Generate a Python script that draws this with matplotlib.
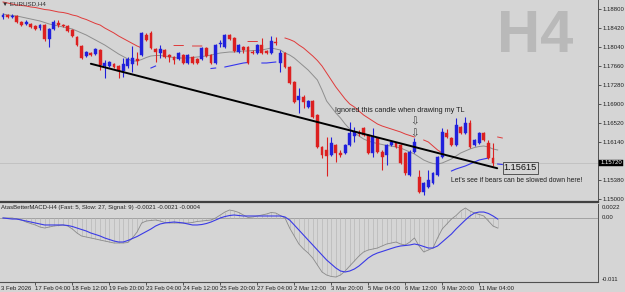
import matplotlib
matplotlib.use("Agg")
import matplotlib.pyplot as plt
import matplotlib.transforms as mtransforms
import numpy as np

# ---------------- data ----------------
opens = [1.1864, 1.1868, 1.1864, 1.1866, 1.1854, 1.1850, 1.1850, 1.1846, 1.1842, 1.1848,
         1.1820, 1.1840, 1.1852, 1.1848, 1.1846, 1.1838, 1.1824, 1.1806, 1.1786, 1.1792,
         1.1790, 1.1798, 1.1766, 1.1766, 1.1770, 1.1766, 1.1756, 1.1766, 1.1770, 1.1780,
         1.1788, 1.1828, 1.1832, 1.1800, 1.1792, 1.1798, 1.1788, 1.1784, 1.1780, 1.1788,
         1.1772, 1.1784, 1.1780, 1.1780, 1.1802, 1.1788, 1.1772, 1.1809, 1.1804, 1.1828,
         1.1822, 1.1794, 1.1804, 1.1804, 1.1794, 1.1792, 1.1808, 1.1796, 1.1792, 1.1815,
         1.1772, 1.1792, 1.1764, 1.1734, 1.1698, 1.1704, 1.1684, 1.1696, 1.1668, 1.1604,
         1.1598, 1.1588, 1.1608, 1.1592, 1.1592, 1.1608, 1.1626, 1.1633, 1.1642, 1.1628,
         1.1592, 1.1622, 1.1594, 1.1588, 1.1608, 1.1612, 1.1608, 1.1592, 1.1548, 1.1594,
         1.1544, 1.1514, 1.1524, 1.1532, 1.1548, 1.1584, 1.1632, 1.1622, 1.1608, 1.1644,
         1.1632, 1.1652, 1.1608, 1.1612, 1.1632, 1.1612, 1.1582]
highs = [1.1872, 1.1870, 1.1870, 1.1868, 1.1856, 1.1858, 1.1852, 1.1848, 1.1850, 1.1850,
         1.1842, 1.1858, 1.1858, 1.1850, 1.1848, 1.1840, 1.1826, 1.1808, 1.1796, 1.1794,
         1.1802, 1.1800, 1.1778, 1.1776, 1.1772, 1.1768, 1.1782, 1.1784, 1.1806, 1.1794,
         1.1834, 1.1832, 1.1836, 1.1802, 1.1808, 1.1800, 1.1790, 1.1786, 1.1794, 1.1790,
         1.1790, 1.1786, 1.1782, 1.1804, 1.1804, 1.1790, 1.1810, 1.1818, 1.1830, 1.1830,
         1.1824, 1.1810, 1.1806, 1.1806, 1.1798, 1.1810, 1.1822, 1.1798, 1.1826, 1.1824,
         1.1798, 1.1794, 1.1766, 1.1736, 1.1722, 1.1708, 1.1698, 1.1698, 1.1670, 1.1606,
         1.1624, 1.1624, 1.1610, 1.1598, 1.1610, 1.1654, 1.1644, 1.1638, 1.1644, 1.1630,
         1.1642, 1.1624, 1.1598, 1.1610, 1.1616, 1.1614, 1.1610, 1.1594, 1.1598, 1.1622,
         1.1558, 1.1534, 1.1558, 1.1554, 1.1586, 1.1642, 1.1640, 1.1624, 1.1662, 1.1646,
         1.1664, 1.1658, 1.1620, 1.1634, 1.1634, 1.1618, 1.1612]
lows = [1.1860, 1.1862, 1.1862, 1.1852, 1.1846, 1.1848, 1.1842, 1.1838, 1.1838, 1.1816,
        1.1804, 1.1838, 1.1844, 1.1844, 1.1834, 1.1824, 1.1806, 1.1780, 1.1784, 1.1786,
        1.1788, 1.1758, 1.1742, 1.1764, 1.1762, 1.1742, 1.1744, 1.1762, 1.1754, 1.1768,
        1.1786, 1.1816, 1.1800, 1.1774, 1.1782, 1.1782, 1.1774, 1.1770, 1.1778, 1.1770,
        1.1770, 1.1770, 1.1770, 1.1778, 1.1784, 1.1770, 1.1770, 1.1804, 1.1802, 1.1818,
        1.1794, 1.1792, 1.1792, 1.1770, 1.1790, 1.1790, 1.1790, 1.1790, 1.1790, 1.1808,
        1.1754, 1.1762, 1.1730, 1.1692, 1.1672, 1.1682, 1.1682, 1.1662, 1.1602, 1.1582,
        1.1546, 1.1586, 1.1574, 1.1584, 1.1590, 1.1606, 1.1614, 1.1626, 1.1626, 1.1590,
        1.1584, 1.1592, 1.1558, 1.1568, 1.1606, 1.1602, 1.1570, 1.1548, 1.1546, 1.1592,
        1.1512, 1.1508, 1.1522, 1.1530, 1.1546, 1.1582, 1.1622, 1.1606, 1.1606, 1.1630,
        1.1630, 1.1602, 1.1606, 1.1610, 1.1616, 1.1580, 1.1566]
closes = [1.1868, 1.1864, 1.1866, 1.1854, 1.1848, 1.1854, 1.1844, 1.1840, 1.1848, 1.1820,
          1.1840, 1.1854, 1.1848, 1.1846, 1.1836, 1.1826, 1.1808, 1.1782, 1.1794, 1.1788,
          1.1800, 1.1768, 1.1772, 1.1774, 1.1764, 1.1756, 1.1770, 1.1780, 1.1782, 1.1776,
          1.1832, 1.1818, 1.1802, 1.1794, 1.1800, 1.1784, 1.1784, 1.1778, 1.1792, 1.1772,
          1.1788, 1.1772, 1.1772, 1.1802, 1.1786, 1.1772, 1.1808, 1.1811, 1.1828, 1.1820,
          1.1796, 1.1808, 1.1798, 1.1772, 1.1792, 1.1808, 1.1792, 1.1792, 1.1816, 1.1813,
          1.1792, 1.1764, 1.1732, 1.1694, 1.1706, 1.1694, 1.1696, 1.1664, 1.1604, 1.1588,
          1.1586, 1.1612, 1.1592, 1.1588, 1.1608, 1.1632, 1.1634, 1.1631, 1.1628, 1.1592,
          1.1624, 1.1594, 1.1584, 1.1608, 1.1614, 1.1604, 1.1572, 1.1552, 1.1594, 1.1614,
          1.1514, 1.1532, 1.1538, 1.1552, 1.1584, 1.1634, 1.1624, 1.1608, 1.1648, 1.1632,
          1.1652, 1.1604, 1.1618, 1.1632, 1.1618, 1.1582, 1.1572]

# grey moving average (shifted one bar forward)
ma_grey = [1.1870, 1.1868, 1.1867, 1.1866, 1.1864, 1.1862, 1.1860, 1.1858, 1.1856, 1.1853,
           1.1850, 1.1848, 1.1846, 1.1844, 1.1842, 1.1840, 1.1836, 1.1832, 1.1828, 1.1823,
           1.1818, 1.1813, 1.1808, 1.1802, 1.1796, 1.1790, 1.1785, 1.1780, 1.1776, 1.1776,
           1.1779, 1.1783, 1.1786, 1.1787, 1.1787, 1.1786, 1.1784, 1.1783, 1.1782, 1.1782,
           1.1782, 1.1783, 1.1784, 1.1785, 1.1786, 1.1788, 1.1790, 1.1792, 1.1793, 1.1794,
           1.1794, 1.1795, 1.1796, 1.1796, 1.1797, 1.1797, 1.1798, 1.1800, 1.1802, 1.1800,
           1.1798, 1.1792, 1.1788, 1.1782, 1.1774, 1.1766, 1.1758, 1.1748, 1.1738, 1.1718,
           1.1696, 1.1684, 1.1672, 1.1662, 1.1650, 1.1640, 1.1632, 1.1626, 1.1620, 1.1616,
           1.1613, 1.1611, 1.1609, 1.1607, 1.1606, 1.1604, 1.1602, 1.1598, 1.1594, 1.1590,
           1.1584, 1.1578, 1.1574, 1.1571, 1.1570, 1.1572, 1.1576, 1.1580, 1.1586, 1.1592,
           1.1596, 1.1600, 1.1603, 1.1605, 1.1606, 1.1604, 1.1600, 1.1598]

# red upper line (with gaps)
line_red = ([1.1894, 1.1892, 1.1890, 1.1888, 1.1887, 1.1886, 1.1884, 1.1883, 1.1881, 1.1879,
             1.1878, 1.1876, 1.1874, 1.1873, 1.1871, 1.1868, 1.1866, 1.1862, 1.1859, 1.1855,
             1.1851, 1.1848, 1.1842, 1.1837, 1.1832, 1.1826, 1.1821, 1.1816, 1.1811, 1.1806,
             1.1802]
            + [None] * 6 + [1.1807] * 3 + [None] + [1.1806] * 3 + [None] * 9
            + [1.1815] * 3 + [None] * 5
            + [1.1822, 1.1819, 1.1815, 1.1808, 1.1802, 1.1794, 1.1786, 1.1777, 1.1766, 1.1752,
               1.1738, 1.1724, 1.1712, 1.1700, 1.1690, 1.1684, 1.1676, 1.1668, 1.1662, 1.1656,
               1.1650, 1.1646, 1.1643, 1.1640, 1.1637, 1.1634, 1.1630, 1.1627, 1.1624]
            + [None] + [1.1618, 1.1614, 1.1606, 1.1598, 1.1592] + [None] * 11
            + [1.1624, 1.1622])

# blue lower line (with gaps)
line_blue = ([None] * 32 + [1.1762, 1.1766] + [None] * 11 + [1.1761, 1.1762] + [None]
             + [1.1764, 1.1766, 1.1768, 1.1770, 1.1772, 1.1773] + [None] * 2
             + [1.1772, 1.1772, 1.1773, 1.1774] + [None] * 37
             + [1.1556, 1.1560, 1.1563, 1.1566, 1.1570, 1.1574, 1.1578, 1.1580, 1.1582]
             + [None] + [1.1570, 1.1569])

# MACD sub-window values (in units of 1e-4)
macd_e4 = [-0.3, -0.3, -0.3, -2.1, -3.8, -7.2, -9.8, -12.3, -15.8, -17.5,
           -15.8, -14.1, -13.2, -12.3, -14.1, -19.2, -26.1, -31.2, -32.9, -34.6,
           -36.3, -38.1, -39.8, -41.5, -43.2, -43.2, -43.2, -42.3, -34.6, -24.3,
           -8.9, -5.5, -4.6, -3.8, -5.5, -8.0, -8.9, -8.9, -8.9, -8.9,
           -8.9, -8.0, -6.3, -5.5, -4.6, -3.8, -0.3, 4.8, 9.9, 13.4,
           11.7, 9.1, 4.8, 0.5, 1.4, 3.1, 4.8, 6.5, 9.1, 8.2,
           3.9, -0.3, -17.5, -31.2, -44.9, -53.5, -60.3, -68.9, -80.9, -92.9,
           -98.1, -100.6, -101.5, -98.1, -91.2, -82.6, -74.1, -65.5, -58.6, -55.2,
           -53.5, -51.8, -48.3, -44.9, -43.2, -41.5, -44.9, -46.6, -41.5, -34.6,
           -48.3, -58.6, -55.2, -51.8, -34.6, -19.2, -10.6, -2.1, 3.9, 11.7,
           16.8, 11.7, 8.2, 5.7, 3.1, -5.5, -14.1, -17.5]
signal_e4 = [-0.3, -1.2, -2.1, -2.1, -3.8, -5.5, -7.2, -8.9, -10.6, -12.3,
             -12.3, -12.3, -12.3, -12.3, -13.2, -14.9, -17.5, -20.1, -22.6, -26.1,
             -28.6, -31.2, -34.6, -37.2, -39.8, -41.5, -41.5, -38.9, -35.5, -32.1,
             -27.8, -23.5, -19.2, -14.1, -10.6, -8.9, -8.0, -7.2, -8.0, -8.9,
             -10.6, -12.3, -12.3, -11.5, -9.8, -7.2, -3.8, -0.3, 2.2, 3.9,
             4.8, 3.9, 3.1, 3.1, 3.1, 3.1, 3.1, 3.1, 3.1, 3.1,
             3.1, 1.4, -3.8, -12.3, -20.9, -29.5, -38.1, -46.6, -55.2, -63.8,
             -72.3, -79.2, -86.1, -91.2, -92.9, -91.2, -87.8, -82.6, -75.8, -68.9,
             -63.8, -60.3, -57.8, -55.2, -52.6, -50.1, -48.3, -47.5, -46.6, -44.9,
             -46.6, -49.2, -51.8, -51.8, -48.3, -41.5, -34.6, -27.8, -19.2, -11.5,
             -3.8, 3.1, 8.2, 9.9, 9.9, 7.4, 3.1, -2.1]

# trend line (bar index, price)
tl_bars = [19.0, 106.9]
tl_prices = [1.17705, 1.15615]

price_ticks = [1.18800, 1.18420, 1.18040, 1.17660, 1.17280, 1.16900,
               1.16520, 1.16140, 1.15380, 1.15000]
last_price = 1.15720
date_tick_bars = [7, 15, 23, 31, 39, 47, 55, 63, 71, 79, 87, 95, 103]
date_labels = ["17 Feb 04:00", "18 Feb 12:00", "19 Feb 20:00", "23 Feb 04:00",
               "24 Feb 12:00", "25 Feb 20:00", "27 Feb 04:00", "2 Mar 12:00",
               "3 Mar 20:00", "5 Mar 04:00", "6 Mar 12:00", "9 Mar 20:00",
               "11 Mar 04:00"]
first_date_label = "3 Feb 2026"

# ---------------- style ----------------
BG = "#d5d5d5"
UP = "#2020dc"
DN = "#dc2020"
FONT = ["Liberation Sans", "DejaVu Sans"]

fig = plt.figure(figsize=(6.25, 2.92), dpi=100, facecolor=BG)
ax = fig.add_axes([0.0, 1 - 202 / 292, 598 / 625, 202 / 292], facecolor=BG)
ax2 = fig.add_axes([0.0, 1 - 282 / 292, 598 / 625, 78 / 292], facecolor=BG)

XL = (-0.649, 128.7)

# ---------------- main chart ----------------
o = np.array(opens); h = np.array(highs); l = np.array(lows); c = np.array(closes)
idx = np.arange(len(o))
up = c >= o
cols = np.where(up, UP, DN)
ax.axhline(last_price, color="#c2c2c2", lw=0.7, zorder=1)
ax.vlines(idx, l, h, colors=cols, lw=0.8, zorder=3)
bottoms = np.minimum(o, c)
heights = np.maximum(np.abs(c - o), 0.00005)
ax.bar(idx, heights, bottom=bottoms, width=0.62, color=cols, edgecolor=cols,
       linewidth=0.3, zorder=4)

ma_idx = np.arange(len(ma_grey))
ax.plot(ma_idx, ma_grey, color="#8e8e8e", lw=0.7, zorder=2)
red_arr = np.array([np.nan if v is None else v for v in line_red], dtype=float)
blue_arr = np.array([np.nan if v is None else v for v in line_blue], dtype=float)
ax.plot(np.arange(len(red_arr)), red_arr, color="#e03a3a", lw=0.7, zorder=2)
ax.plot(np.arange(len(blue_arr)), blue_arr, color="#3535ee", lw=0.8, zorder=2)

ax.plot(tl_bars, tl_prices, color="black", lw=1.4, zorder=5, solid_capstyle="round")

ax.set_xlim(*XL)
ax.set_ylim(1.1494, 1.1898)
ax.set_xticks([])
ax.yaxis.tick_right()
ax.set_yticks(price_ticks)
ax.set_yticklabels([f"{p:.5f}" for p in price_ticks])
ax.tick_params(axis="y", direction="out", length=2, width=0.5, pad=1.5,
               labelsize=4.3, colors="#202020")
for lab in ax.get_yticklabels():
    lab.set_family(FONT)
for s in ["top", "left"]:
    ax.spines[s].set_visible(False)
ax.spines["right"].set_color("#505050"); ax.spines["right"].set_linewidth(0.7)
ax.spines["bottom"].set_color("#404040"); ax.spines["bottom"].set_linewidth(1.6)

trans = mtransforms.blended_transform_factory(ax.transAxes, ax.transData)
ax.text(1.004, last_price, f"{last_price:.5f}", transform=trans, fontsize=4.3,
        family=FONT, color="white", va="center", ha="left",
        bbox=dict(boxstyle="square,pad=0.15", fc="black", ec="black", lw=0.3))

ax.text(115.1, 1.1824, "H4", fontsize=43, fontweight="bold", color="#b9b9b9",
        family=FONT, ha="center", va="center", zorder=0)
ax.text(0.003, 0.992, "\u25BC EURUSD,H4", transform=ax.transAxes, fontsize=4.5,
        family=FONT, color="#303030", ha="left", va="top")

ax.text(71.8, 1.1676, "Ignored this candle when drawing my TL", fontsize=5.2,
        family=FONT, color="#202020", ha="left", va="center", zorder=6)
for yv in (1.1656, 1.1632):
    ax.text(89.0, yv, "\u21E9", fontsize=7.5, family=["DejaVu Sans"],
            color="#404040", ha="center", va="center", zorder=6)
ax.text(108.3, 1.1562, "1.15615", fontsize=6.6, family=FONT, color="#101010",
        ha="left", va="center", zorder=6,
        bbox=dict(boxstyle="square,pad=0.12", fc=BG, ec="#404040", lw=0.6))
ax.text(96.9, 1.1538, "Let's see if bears can be slowed down here!", fontsize=4.9,
        family=FONT, color="#202020", ha="left", va="center", zorder=6)

# ---------------- MACD sub-window ----------------
m = np.array(macd_e4) * 1e-4
sg = np.array(signal_e4) * 1e-4
mi = np.arange(len(m))
ax2.axhline(0.0, color="#a2a2a2", lw=0.7, zorder=1)
ax2.vlines(mi, 0, m, colors="#b7b7b7", lw=0.5, zorder=1)
ax2.plot(mi, m, color="#8a8a8a", lw=0.6, zorder=2)
ax2.plot(mi, sg, color="#3a3ae6", lw=0.8, zorder=3)
ax2.set_xlim(*XL)
ax2.set_ylim(-0.011006, 0.002366)
ax2.set_yticks([])
ax2.set_xticks(date_tick_bars)
ax2.set_xticklabels(date_labels)
ax2.tick_params(axis="x", direction="out", length=2, width=0.5, pad=1.2,
                labelsize=4.3, colors="#202020")
for lab in ax2.get_xticklabels():
    lab.set_ha("left")
    lab.set_family(FONT)
for s in ["top", "left"]:
    ax2.spines[s].set_visible(False)
ax2.spines["right"].set_color("#505050"); ax2.spines["right"].set_linewidth(0.7)
ax2.spines["bottom"].set_color("#505050"); ax2.spines["bottom"].set_linewidth(0.8)

tx0 = mtransforms.blended_transform_factory(ax2.transAxes, ax2.transAxes)
ax2.text(-0.43, -0.048, first_date_label,
         transform=mtransforms.blended_transform_factory(ax2.transData, ax2.transAxes),
         fontsize=4.3, family=FONT, color="#202020", ha="left", va="top")
ax2.text(0.002, 0.985,
         "AtasBetterMACD-H4 (Fast: 5, Slow: 27, Signal: 9) -0.0021 -0.0021 -0.0004",
         transform=tx0, fontsize=4.3, family=FONT, color="#202020", ha="left", va="top")
tr2 = mtransforms.blended_transform_factory(ax2.transAxes, ax2.transData)
ax2.text(1.006, 0.0022, "0.0022", transform=tr2, fontsize=4.3, family=FONT,
         color="#202020", ha="left", va="top")
ax2.text(1.006, 0.0, "0.00", transform=tr2, fontsize=4.3, family=FONT,
         color="#202020", ha="left", va="center")
ax2.text(1.006, -0.011, "-0.011", transform=tr2, fontsize=4.3, family=FONT,
         color="#202020", ha="left", va="bottom")

fig.savefig("out.png", dpi=100, facecolor=BG)
